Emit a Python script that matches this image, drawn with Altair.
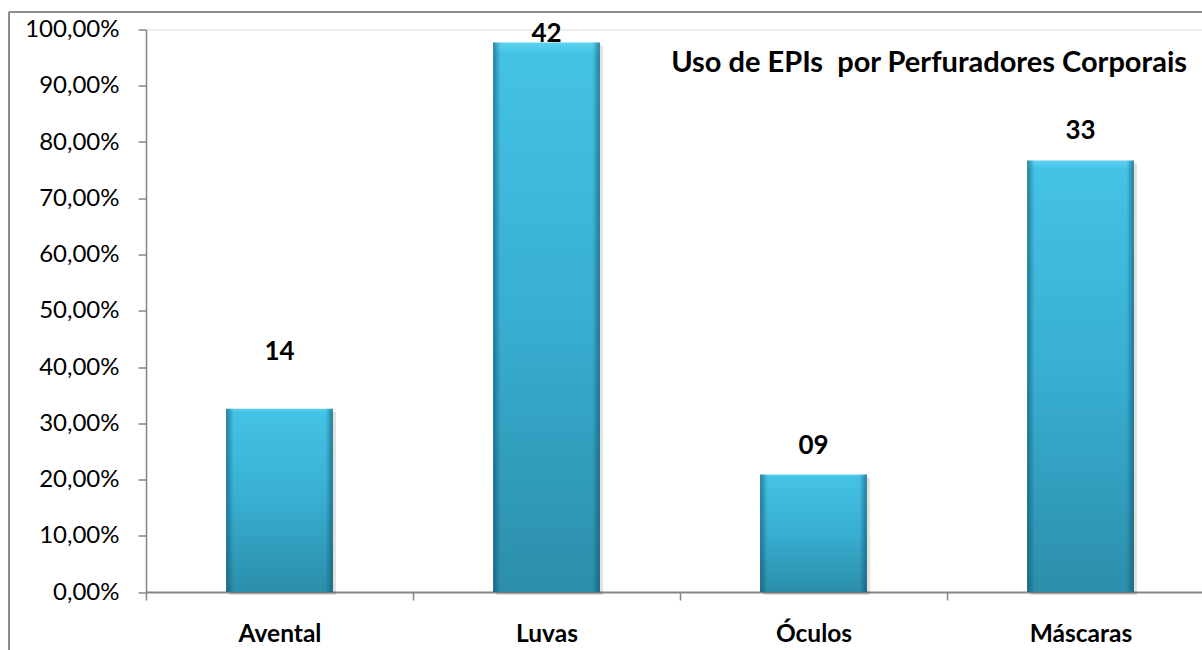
import altair as alt
import pandas as pd

categorias = ["Avental", "Luvas", "Óculos", "Máscaras"]
percentuais = [32.6, 97.7, 20.9, 76.7]
rotulos = ["14", "42", "09", "33"]
altura_rotulos = [42.7, 99.2, 26.0, 82.0]
marcas_y = [0, 10, 20, 30, 40, 50, 60, 70, 80, 90, 100]
titulo = "Uso de EPIs\u00a0 por Perfuradores Corporais"

df = pd.DataFrame({
    "categoria": categorias,
    "pct": percentuais,
    "rotulo": rotulos,
    "pos": altura_rotulos,
})

FONT = "Lato"

xscale = alt.Scale(domain=categorias, range=[0, 1068], paddingInner=0.6, paddingOuter=0.3)
yscale = alt.Scale(domain=[0, 100], nice=False)

x_enc = alt.X(
    "categoria:N", scale=xscale, sort=categorias, title=None,
    axis=alt.Axis(
        labelAngle=0, labelFont=FONT, labelFontSize=24.5, labelFontWeight="bold",
        labelColor="black", labelPadding=22, tickSize=8, tickColor="#868686",
        tickWidth=1.5, domainColor="#868686", domainWidth=2,
        tickOffset=-133.5, labelOffset=133.5, grid=False,
    ),
)
y_enc = alt.Y(
    "pct:Q", scale=yscale, title=None,
    axis=alt.Axis(
        values=marcas_y, labelFont=FONT, labelFontSize=24, labelColor="black",
        labelExpr="replace(format(datum.value, '.2f'), '.', ',') + '%'",
        labelPadding=19, tickSize=8, tickColor="#868686", tickWidth=1.5,
        domainColor="#868686", domainWidth=1.5, grid=False,
    ),
)

base = alt.Chart(df)

sombra = base.mark_bar(color="#000000", opacity=0.12, xOffset=3, yOffset=3).encode(
    x=x_enc, y=y_enc
)

grad_v = alt.LinearGradient(
    gradient="linear",
    stops=[
        alt.GradientStop(offset=0, color="#5CD2F0"),
        alt.GradientStop(offset=0.02, color="#44C2E6"),
        alt.GradientStop(offset=0.5, color="#38AED2"),
        alt.GradientStop(offset=1, color="#2C8EAA"),
    ],
    x1=0, x2=0, y1=0, y2=1,
)
barras = base.mark_bar(fill=grad_v).encode(x=x_enc, y=y_enc)

grad_h = alt.LinearGradient(
    gradient="linear",
    stops=[
        alt.GradientStop(offset=0, color="rgba(10,70,90,0.55)"),
        alt.GradientStop(offset=0.07, color="rgba(10,70,90,0.0)"),
        alt.GradientStop(offset=0.93, color="rgba(10,70,90,0.0)"),
        alt.GradientStop(offset=1, color="rgba(10,70,90,0.55)"),
    ],
    x1=0, x2=1, y1=0, y2=0,
)
lados = base.mark_bar(fill=grad_h).encode(x=x_enc, y=y_enc)

textos = base.mark_text(
    font=FONT, fontSize=26, fontWeight="bold", color="black", baseline="middle"
).encode(x=alt.X("categoria:N", scale=xscale, sort=categorias), y=alt.Y("pos:Q", scale=yscale), text="rotulo:N")

um = pd.DataFrame({"t": [titulo]})
titulo_txt = alt.Chart(um).mark_text(
    font=FONT, fontSize=29, fontWeight="bold", color="black", align="right", baseline="alphabetic"
).encode(x=alt.value(1041), y=alt.value(42), text="t:N")

borda_v = alt.Chart(um).mark_rule(color="#8C8C8C", strokeWidth=2).encode(
    x=alt.value(-137), y=alt.value(-17.5), y2=alt.value(700)
)
borda_h = alt.Chart(um).mark_rule(color="#8C8C8C", strokeWidth=2).encode(
    x=alt.value(-137), x2=alt.value(1300), y=alt.value(-17.5)
)

chart = alt.layer(sombra, barras, lados, textos, titulo_txt, borda_v, borda_h).properties(
    width=1056,
    height=562.5,
    autosize=alt.AutoSizeParams(type="none"),
    padding={"left": 146, "top": 29.5, "right": 0, "bottom": 58},
).configure_view(stroke=None).configure(background="white")

chart.save("out.html", embed_options={"renderer": "svg", "actions": False})
